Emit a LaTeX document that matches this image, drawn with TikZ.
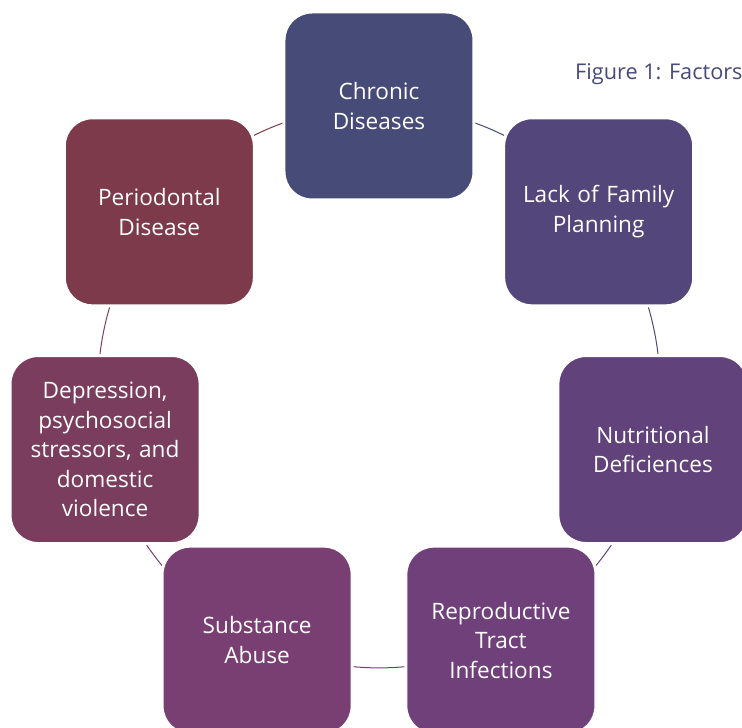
\documentclass[tikz,border=0pt]{standalone}
\usepackage{fontspec}
\setmainfont{Open Sans}
\usetikzlibrary{backgrounds}
\definecolor{ChronicBlue}{HTML}{474B78}
\definecolor{FamilyPurple}{HTML}{53467A}
\definecolor{NutriPurple}{HTML}{61427A}
\definecolor{ReproPurple}{HTML}{70407A}
\definecolor{SubstPlum}{HTML}{7A3F72}
\definecolor{DeprPlum}{HTML}{7A3D5E}
\definecolor{PerioRed}{HTML}{7C3A4A}

\begin{document}
\begin{tikzpicture}[x=1pt,y=1pt,
        factor/.style={rounded corners=28pt,draw=white,line width=3pt,
                       minimum width=190pt,minimum height=188pt,
                       text width=180pt,align=center,text=white,
                       font=\fontsize{22.6}{29.6}\selectfont,inner sep=0pt}]
  \useasboundingbox (-379,-341) rectangle (363,387);
  \clip (-379,-341) rectangle (363,387);

  % factors round the cycle
  \node[factor,fill=ChronicBlue]  (chronic) at (90:281)     {Chronic\\Diseases};
  \node[factor,fill=FamilyPurple] (family)  at (38.57:281)  {Lack of Family\\Planning};
  \node[factor,fill=NutriPurple]  (nutri)   at (-12.86:281) {Nutritional\\Deficiences};
  \node[factor,fill=ReproPurple]  (repro)   at (-64.29:281) {Reproductive\\Tract\\Infections};
  \node[factor,fill=SubstPlum]    (subst)   at (-115.71:281) {Substance\\Abuse};
  \node[factor,fill=DeprPlum]     (depr)    at (-167.14:281) {Depression,\\psychosocial\\stressors, and\\domestic\\violence};
  \node[factor,fill=PerioRed]     (perio)   at (141.43:281) {Periodontal\\Disease};

  % title
  \node[anchor=west,text=ChronicBlue,font=\fontsize{21.7}{25}\selectfont,inner sep=0pt]
    (title) at (196,313) {Figure 1: Factors};

  % arcs between the factors
  \begin{scope}[on background layer]
    \foreach \a/\b/\c in {chronic/family/ChronicBlue,family/nutri/FamilyPurple,
                          nutri/repro/NutriPurple,repro/subst/ReproPurple,
                          subst/depr/SubstPlum,depr/perio/DeprPlum,
                          perio/chronic/PerioRed}{
      \draw[\c,line width=1pt] (\a.center) to[bend left=25.71,looseness=0.896] (\b.center);
    }
  \end{scope}
\end{tikzpicture}
\end{document}
